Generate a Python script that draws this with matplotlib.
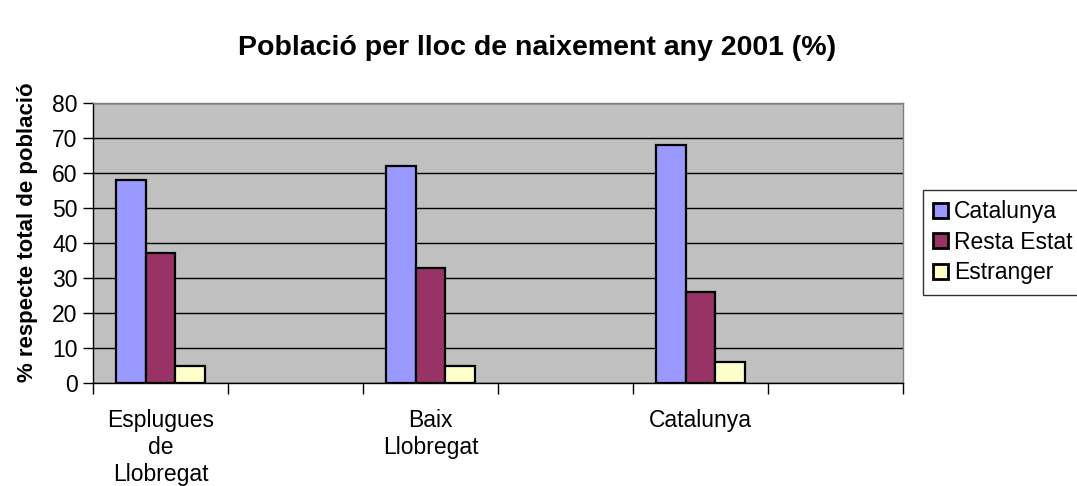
import numpy as np
import matplotlib
matplotlib.use("Agg")
import matplotlib.pyplot as plt

plt.rcParams['font.family'] = ['Liberation Sans', 'DejaVu Sans']

categories = ["Esplugues\nde\nLlobregat", "", "Baix\nLlobregat", "", "Catalunya", ""]
series_names = ["Catalunya", "Resta Estat", "Estranger"]
catalunya = [58, np.nan, 62, np.nan, 68, np.nan]
resta_estat = [37, np.nan, 33, np.nan, 26, np.nan]
estranger = [5, np.nan, 5, np.nan, 6, np.nan]
y_ticks = [0, 10, 20, 30, 40, 50, 60, 70, 80]

colors = ["#9999FF", "#993366", "#FFFFCC"]

fig = plt.figure(figsize=(10.77, 4.86), dpi=100)
ax = fig.add_axes([93/1077, 1-383/486, (903-93)/1077, (383-103)/486])
ax.set_facecolor("#C0C0C0")

x = np.arange(len(categories))
w = 0.222
for k, (vals, name, c) in enumerate(zip([catalunya, resta_estat, estranger], series_names, colors)):
    ax.bar(x + (k - 1) * w, vals, width=w, color=c, edgecolor="black", linewidth=1.6,
           label=name, zorder=3)

ax.set_xlim(-0.5, len(categories) - 0.5)
ax.set_ylim(0, 80)
ax.set_yticks(y_ticks)
ax.yaxis.grid(True, color="black", linewidth=1.0, zorder=1)
ax.set_axisbelow(True)
ax.tick_params(axis='y', labelsize=16.5, length=7, width=1, direction='out', pad=4)

ax.set_xticks(x)
ax.set_xticklabels(categories, fontsize=16.5, linespacing=1.2)
ax.tick_params(axis='x', which='major', length=0, pad=19)
ax.set_xticks(np.arange(-0.5, len(categories)), minor=True)
ax.tick_params(axis='x', which='minor', length=8, width=1, direction='out')

for s in ['left', 'bottom']:
    ax.spines[s].set_color('black')
    ax.spines[s].set_linewidth(1)
for s in ['top', 'right']:
    ax.spines[s].set_color('#808080')
    ax.spines[s].set_linewidth(1)

ax.set_ylabel("% respecte total de població", fontsize=16, fontweight='bold')
ax.yaxis.set_label_coords(-0.068, 0.54)
fig.text(537/1077, 1-48/486, "Població per lloc de naixement any 2001 (%)", ha='center', va='center',
         fontsize=20.5, fontweight='bold')

leg = fig.legend(loc='upper left', bbox_to_anchor=(923/1077, 1-190/486), fontsize=16.5,
                 frameon=True, fancybox=False, edgecolor='black', handlelength=0.65,
                 handleheight=0.65, handletextpad=0.25, labelspacing=0.33, borderpad=0.45,
                 borderaxespad=0)
leg.get_frame().set_linewidth(1)
for h in leg.legend_handles:
    h.set_linewidth(2)

fig.savefig("out.png", dpi=100)
